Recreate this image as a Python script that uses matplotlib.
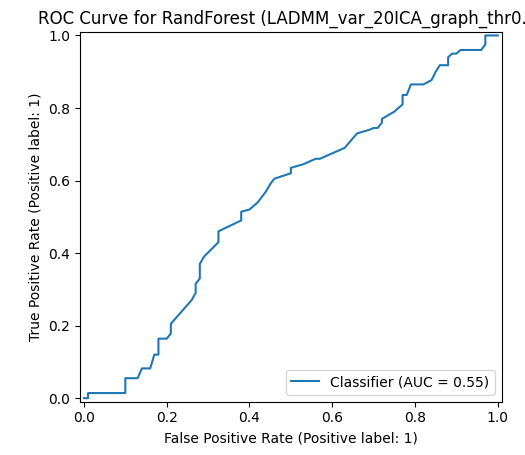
import matplotlib
matplotlib.use("Agg")
import matplotlib.pyplot as plt

fpr = [0, 0.01, 0.01, 0.10, 0.10, 0.13, 0.14, 0.16, 0.165, 0.17, 0.18, 0.18, 0.20, 0.21, 0.21,
       0.26, 0.27, 0.27, 0.28, 0.28, 0.29, 0.325, 0.325, 0.38, 0.38, 0.40, 0.42, 0.44, 0.45,
       0.46, 0.50, 0.50, 0.53, 0.56, 0.57, 0.60, 0.63, 0.66, 0.69, 0.70, 0.71, 0.72, 0.72,
       0.75, 0.77, 0.77, 0.78, 0.79, 0.82, 0.84, 0.85, 0.86, 0.88, 0.88, 0.89, 0.90, 0.91,
       0.96, 0.97, 0.97, 1.0]
tpr = [0, 0, 0.014, 0.014, 0.055, 0.055, 0.082, 0.082, 0.10, 0.12, 0.12, 0.164, 0.164, 0.178, 0.205,
       0.27, 0.29, 0.315, 0.33, 0.37, 0.39, 0.43, 0.46, 0.49, 0.514, 0.52, 0.54, 0.57, 0.59,
       0.605, 0.62, 0.635, 0.645, 0.66, 0.66, 0.675, 0.69, 0.73, 0.74, 0.745, 0.745, 0.76, 0.77,
       0.79, 0.81, 0.836, 0.836, 0.865, 0.865, 0.877, 0.90, 0.918, 0.918, 0.94, 0.95, 0.95, 0.96,
       0.96, 0.975, 1.0, 1.0]
auc = 0.55

fig = plt.figure(figsize=(5.25, 4.55), dpi=100)
ax = fig.add_axes([0.152, 0.117, 0.804, 0.813])
ax.plot(fpr, tpr, label=f"Classifier (AUC = {auc:.2f})")
ax.set_xlim(-0.01, 1.01)
ax.set_ylim(-0.01, 1.01)
ax.set_xlabel("False Positive Rate (Positive label: 1)")
ax.set_ylabel("True Positive Rate (Positive label: 1)")
ax.set_title("ROC Curve for RandForest (LADMM_var_20ICA_graph_thr0.3)")
ax.legend(loc="lower right")
plt.savefig("out.png", dpi=100)
